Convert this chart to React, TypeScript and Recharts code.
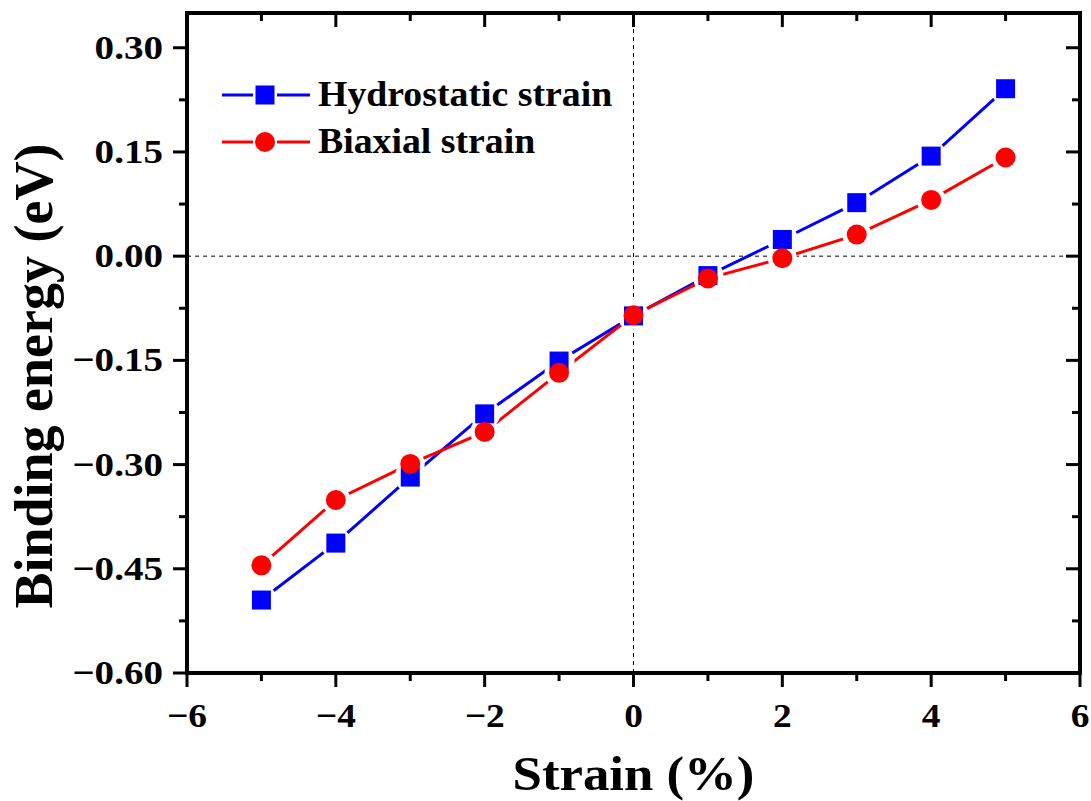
import React from 'react';
import { ComposedChart, Line, Scatter, XAxis, YAxis, ReferenceLine, ReferenceArea, Legend } from 'recharts';

const strainValues = [-5, -4, -3, -2, -1, 0, 1, 2, 3, 4, 5];
const hydrostaticValues = [-0.495, -0.413, -0.318, -0.227, -0.151, -0.086, -0.028, 0.024, 0.077, 0.144, 0.241];
const biaxialValues = [-0.445, -0.351, -0.299, -0.253, -0.168, -0.085, -0.032, -0.003, 0.031, 0.081, 0.142];

const xMajorTicks = [-6, -4, -2, 0, 2, 4, 6];
const xMinorTicks = [-5, -3, -1, 1, 3, 5];
const xTickLabels = ['\u22126', '\u22124', '\u22122', '0', '2', '4', '6'];
const yMajorTicks = [-0.6, -0.45, -0.3, -0.15, 0, 0.15, 0.3];
const yMinorTicks = [-0.525, -0.375, -0.225, -0.075, 0.075, 0.225];
const yTickLabels = ['\u22120.60', '\u22120.45', '\u22120.30', '\u22120.15', '0.00', '0.15', '0.30'];
const xDomain = [-6, 6];
const yDomain = [-0.6, 0.35];
const seriesNames = ['Hydrostatic strain', 'Biaxial strain'];
const seriesColors = ['#0000ff', '#ff0000'];
const xTitle = 'Strain (%)';
const yTitle = 'Binding energy (eV)';

const data = strainValues.map((x, i) => ({ x, h: hydrostaticValues[i], b: biaxialValues[i] }));
const xTicks = [...xMajorTicks, ...xMinorTicks].sort((a, b) => a - b);
const yTicks = [...yMajorTicks, ...yMinorTicks].sort((a, b) => a - b);

const W = 1091;
const H = 801;
const MARGIN = { top: 13, right: 11, left: 0, bottom: 0 };
const PLOT_TOP = MARGIN.top;
const PLOT_RIGHT = W - MARGIN.right;

const FONT = "'Liberation Serif', 'Times New Roman', Times, serif";
const MAJOR = 14;
const MINOR = 8;
const TICK_W = 3;

const majorIndex = (arr: number[], v: number) => arr.findIndex((a) => Math.abs(a - v) < 1e-6);

// bottom axis ticks; the same x positions are mirrored (inward) on the top frame edge
const BottomTick = (props: any) => {
  const { x, y, payload } = props;
  const i = majorIndex(xMajorTicks, payload.value);
  const major = i >= 0;
  const len = major ? MAJOR : MINOR;
  return (
    <g>
      <line x1={x} x2={x} y1={y} y2={y + len} stroke="#000" strokeWidth={TICK_W} />
      <line x1={x} x2={x} y1={PLOT_TOP} y2={PLOT_TOP + len} stroke="#000" strokeWidth={TICK_W} />
      {major && (
        <text transform={`translate(${x},${y + 54}) scale(1.1,1)`} textAnchor="middle" fontFamily={FONT} fontWeight="bold" fontSize={34} fill="#000">
          {xTickLabels[i]}
        </text>
      )}
    </g>
  );
};

// left axis ticks; the same y positions are mirrored (inward) on the right frame edge
const LeftTick = (props: any) => {
  const { x, y, payload } = props;
  const i = majorIndex(yMajorTicks, payload.value);
  const major = i >= 0;
  const len = major ? MAJOR : MINOR;
  return (
    <g>
      <line x1={x - len} x2={x} y1={y} y2={y} stroke="#000" strokeWidth={TICK_W} />
      <line x1={PLOT_RIGHT - len} x2={PLOT_RIGHT} y1={y} y2={y} stroke="#000" strokeWidth={TICK_W} />
      {major && (
        <text transform={`translate(${x - 24},${y + 11}) scale(1.15,1)`} textAnchor="end" fontFamily={FONT} fontWeight="bold" fontSize={34} fill="#000">
          {yTickLabels[i]}
        </text>
      )}
    </g>
  );
};

const XTitle = (props: any) => {
  const vb = props.viewBox || {};
  return (
    <text transform={`translate(${vb.x + vb.width / 2},${vb.y + 117}) scale(1.1,1)`} textAnchor="middle" fontFamily={FONT} fontWeight="bold" fontSize={48} fill="#000">
      {xTitle}
    </text>
  );
};

const YTitle = (props: any) => {
  const vb = props.viewBox || {};
  return (
    <text transform={`translate(${vb.x + 52},${vb.y + vb.height / 2 + 33}) rotate(-90)`} textAnchor="middle" fontFamily={FONT} fontWeight="bold" fontSize={54} fill="#000">
      {yTitle}
    </text>
  );
};

const WhiteDiscSquare = (props: any) => <circle cx={props.cx} cy={props.cy} r={15.5} fill="#ffffff" stroke="none" />;
const WhiteDiscCircle = (props: any) => <circle cx={props.cx} cy={props.cy} r={14.5} fill="#ffffff" stroke="none" />;
const SquareMark = (props: any) => <rect x={props.cx - 9.5} y={props.cy - 9.5} width={19} height={19} fill={seriesColors[0]} />;
const CircleMark = (props: any) => <circle cx={props.cx} cy={props.cy} r={10} fill={seriesColors[1]} />;

const LegendContent = () => (
  <svg width={430} height={110} style={{ display: 'block' }}>
    {seriesNames.map((name, i) => {
      const cy = 35 + i * 47;
      return (
        <g key={name}>
          <line x1={12} x2={43} y1={cy} y2={cy} stroke={seriesColors[i]} strokeWidth={3} />
          <line x1={67} x2={100} y1={cy} y2={cy} stroke={seriesColors[i]} strokeWidth={3} />
          {i === 0 ? (
            <rect x={55 - 9.5} y={cy - 9.5} width={19} height={19} fill={seriesColors[i]} />
          ) : (
            <circle cx={55} cy={cy} r={10} fill={seriesColors[i]} />
          )}
          <text transform={`translate(108,${cy + 11}) scale(1.08,1)`} fontFamily={FONT} fontWeight="bold" fontSize={35} fill="#000">
            {name}
          </text>
        </g>
      );
    })}
  </svg>
);

const axisLineStyle = { stroke: '#000', strokeWidth: 4, strokeLinecap: 'square' as const };

export default function App() {
  return (
    <div style={{ position: 'absolute', left: 0, top: 0, width: W, height: H, background: '#fff' }}>
      <ComposedChart width={W} height={H} data={data} margin={MARGIN}>
        <XAxis
          xAxisId="b"
          dataKey="x"
          type="number"
          domain={xDomain}
          allowDataOverflow
          ticks={xTicks}
          interval={0}
          tickSize={0}
          tickMargin={0}
          tickLine={false}
          tick={BottomTick}
          axisLine={axisLineStyle}
          height={128}
          label={XTitle}
        />
        <YAxis
          yAxisId="l"
          type="number"
          domain={yDomain}
          allowDataOverflow
          ticks={yTicks}
          interval={0}
          tickSize={0}
          tickMargin={0}
          tickLine={false}
          tick={LeftTick}
          axisLine={axisLineStyle}
          width={187}
          label={YTitle}
        />
        <ReferenceLine xAxisId="b" yAxisId="l" y={0} stroke="#000" strokeWidth={1} strokeDasharray="4 4" />
        <ReferenceLine xAxisId="b" yAxisId="l" x={0} stroke="#000" strokeWidth={1} strokeDasharray="4 4" />
        <ReferenceArea
          xAxisId="b"
          yAxisId="l"
          x1={xDomain[0]}
          x2={xDomain[1]}
          y1={yDomain[0]}
          y2={yDomain[1]}
          fill="none"
          fillOpacity={0}
          stroke="#000"
          strokeWidth={4}
          strokeOpacity={1}
        />
        <Line xAxisId="b" yAxisId="l" dataKey="h" stroke={seriesColors[0]} strokeWidth={3} dot={false} activeDot={false} isAnimationActive={false} legendType="none" />
        <Line xAxisId="b" yAxisId="l" dataKey="b" stroke={seriesColors[1]} strokeWidth={3} dot={false} activeDot={false} isAnimationActive={false} legendType="none" />
        <Scatter xAxisId="b" yAxisId="l" dataKey="h" shape={WhiteDiscSquare} isAnimationActive={false} legendType="none" />
        <Scatter xAxisId="b" yAxisId="l" dataKey="b" shape={WhiteDiscCircle} isAnimationActive={false} legendType="none" />
        <Scatter xAxisId="b" yAxisId="l" dataKey="h" name={seriesNames[0]} shape={SquareMark} isAnimationActive={false} />
        <Scatter xAxisId="b" yAxisId="l" dataKey="b" name={seriesNames[1]} shape={CircleMark} isAnimationActive={false} />
        <Legend
          layout="vertical"
          align="center"
          verticalAlign="middle"
          content={LegendContent}
          wrapperStyle={{ position: 'absolute', left: 210, top: 60, width: 430, height: 110 }}
        />
      </ComposedChart>
    </div>
  );
}
